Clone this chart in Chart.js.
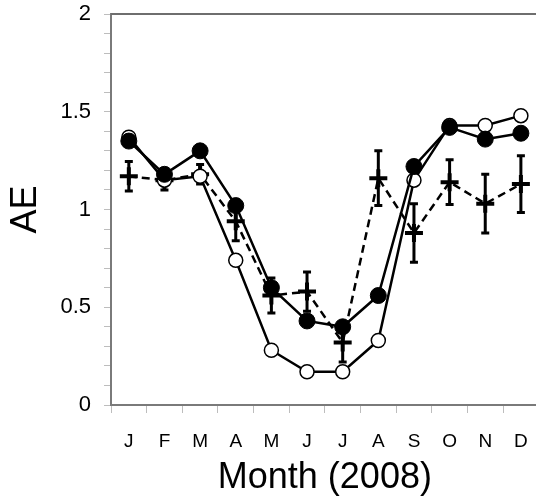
<!DOCTYPE html>
<html>
<head>
<meta charset="utf-8">
<script src="https://cdn.jsdelivr.net/npm/chart.js@4/dist/chart.umd.min.js"></script>
<style>
  html, body { margin: 0; padding: 0; background: #fff; overflow: hidden; }
  #wrap { width: 545px; height: 500px; }
</style>
</head>
<body>
<div id="wrap"><canvas id="aeChart"></canvas></div>
<script>
// Data
const months = ['J', 'F', 'M', 'A', 'M', 'J', 'J', 'A', 'S', 'O', 'N', 'D'];
const filledAE = [1.35, 1.18, 1.30, 1.02, 0.60, 0.43, 0.40, 0.56, 1.22, 1.42, 1.36, 1.39];
const openAE = [1.37, 1.15, 1.17, 0.74, 0.28, 0.17, 0.17, 0.33, 1.15, 1.43, 1.43, 1.48];
const crossAE = [1.17, 1.15, 1.18, 0.94, 0.56, 0.58, 0.32, 1.16, 0.88, 1.14, 1.03, 1.13];
const crossErr = [0.075, 0.05, 0.05, 0.10, 0.09, 0.10, 0.10, 0.14, 0.15, 0.115, 0.15, 0.145];

// error bars + top frame line, drawn through the chart scales
const errorBarPlugin = {
    id: 'errorBars',
    beforeDatasetsDraw(chart) {
        const ctx = chart.ctx;
        const x = chart.scales.x;
        const y = chart.scales.y;
        ctx.save();
        ctx.strokeStyle = '#000';
        ctx.lineWidth = 3;
        crossAE.forEach(function(v, i) {
            const px = x.getPixelForValue(i);
            const top = y.getPixelForValue(v + crossErr[i]);
            const bot = y.getPixelForValue(v - crossErr[i]);
            ctx.beginPath();
            ctx.moveTo(px, top);
            ctx.lineTo(px, bot);
            ctx.moveTo(px - 4, top);
            ctx.lineTo(px + 4, top);
            ctx.moveTo(px - 4, bot);
            ctx.lineTo(px + 4, bot);
            ctx.stroke();
        });
        ctx.restore();
    },
    afterDraw(chart) {
        const ctx = chart.ctx;
        const area = chart.chartArea;
        ctx.save();
        ctx.strokeStyle = '#6e6e6e';
        ctx.lineWidth = 2;
        ctx.beginPath();
        ctx.moveTo(area.left, area.top);
        ctx.lineTo(area.right, area.top);
        ctx.stroke();
        ctx.restore();
    }
};

const ctx = document.getElementById('aeChart');
new Chart(ctx, {
    type: 'line',
    data: {
        labels: months,
        datasets: [{
            label: 'filled',
            data: filledAE,
            borderColor: '#000',
            backgroundColor: '#000',
            borderWidth: 2.5,
            pointRadius: 8,
            pointBorderWidth: 1,
            pointStyle: 'circle',
            order: 0
        }, {
            label: 'open',
            data: openAE,
            borderColor: '#000',
            backgroundColor: '#fff',
            pointBackgroundColor: '#fff',
            borderWidth: 2.5,
            pointRadius: 7,
            pointBorderWidth: 1.5,
            pointStyle: 'circle',
            order: 1
        }, {
            label: 'cross',
            data: crossAE,
            borderColor: '#000',
            backgroundColor: '#000',
            borderWidth: 2.5,
            borderDash: [8, 5],
            pointStyle: 'cross',
            pointRadius: 9,
            pointBorderWidth: 4,
            order: 2
        }]
    },
    options: {
        responsive: true,
        maintainAspectRatio: false,
        animation: false,
        layout: {
            autoPadding: false,
            padding: { top: 14, right: 6, left: 0, bottom: 0 }
        },
        plugins: {
            legend: { display: false },
            tooltip: { enabled: false }
        },
        scales: {
            x: {
                offset: true,
                grid: {
                    offset: true,
                    drawOnChartArea: false,
                    tickLength: 8,
                    color: '#bdbdbd'
                },
                border: { color: '#7a7a7a', width: 2 },
                ticks: {
                    color: '#000',
                    padding: 17,
                    font: { family: 'Liberation Sans', size: 19 }
                },
                title: {
                    display: true,
                    text: 'Month (2008)',
                    color: '#000',
                    padding: { top: 0, bottom: 0 },
                    font: { family: 'Liberation Sans', size: 36 }
                },
                afterFit: function(scale) {
                    scale.height = 95;
                }
            },
            y: {
                min: 0,
                max: 2,
                grid: {
                    drawOnChartArea: false,
                    tickLength: 7,
                    color: '#bdbdbd'
                },
                border: { color: '#7a7a7a', width: 2 },
                ticks: {
                    stepSize: 0.1,
                    autoSkip: false,
                    color: '#000',
                    padding: 13,
                    font: { family: 'Liberation Sans', size: 22 },
                    callback: function(value) {
                        const v = Math.round(value * 10) / 10;
                        return Math.abs(v * 2 - Math.round(v * 2)) < 1e-6 ? String(v) : '';
                    }
                },
                title: {
                    display: true,
                    text: 'AE',
                    color: '#000',
                    padding: { top: 4, bottom: 0 },
                    font: { family: 'Liberation Sans', size: 36 }
                },
                afterFit: function(scale) {
                    scale.width = 111;
                    scale.paddingTop = 0;
                    scale.paddingBottom = 0;
                }
            }
        }
    },
    plugins: [errorBarPlugin]
});
</script>
</body>
</html>
